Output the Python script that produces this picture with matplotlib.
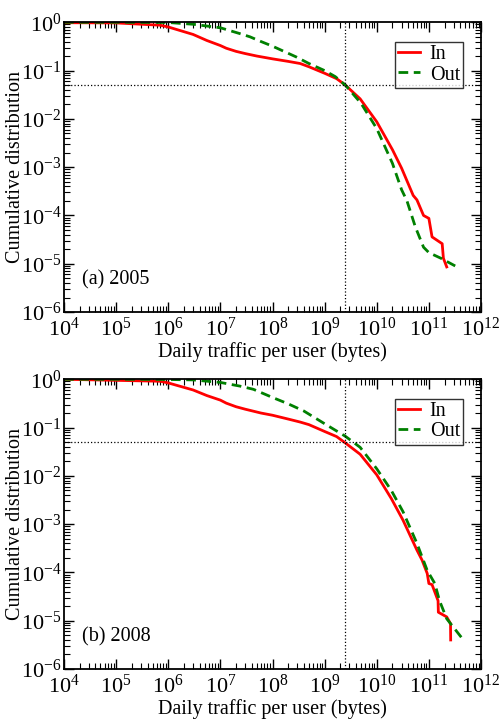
import numpy as np
import matplotlib.pyplot as plt
from matplotlib.ticker import LogLocator, NullFormatter

plt.rcParams['font.family'] = 'Liberation Serif'
plt.rcParams['mathtext.fontset'] = 'stix'

# (a) 2005
x_in_05 = [1e4, 1e5, 7e5, 1e6, 3e6, 5.5e6, 1e7, 1.3e7, 2e7, 3e7, 5e7, 1e8, 2e8, 3.4e8,
           5e8, 1e9, 1.7e9, 2.5e9, 4.8e9, 1e10, 2e10, 3e10, 5e10, 5.9e10, 7.9e10, 1e11,
           1.15e11, 1.8e11, 1.9e11, 2.2e11]
y_in_05 = [0.98, 0.97, 0.87, 0.80, 0.56, 0.42, 0.33, 0.29, 0.25, 0.225, 0.20, 0.175, 0.155,
           0.14, 0.12, 0.088, 0.068, 0.05, 0.026, 0.0087, 0.0023, 9.5e-4, 2.6e-4, 2.1e-4,
           1e-4, 8.7e-5, 3.6e-5, 2.6e-5, 1.3e-5, 8.6e-6]
x_out_05 = [1e4, 1e5, 1e6, 3e6, 1e7, 2.4e7, 3.7e7, 6e7, 1e8, 1.8e8, 2.9e8, 5e8, 1e9, 1.6e9,
            2.5e9, 5e9, 1e10, 2e10, 3e10, 3.8e10, 5.5e10, 7.9e10, 1e11, 1.7e11, 3.2e11]
y_out_05 = [1.0, 1.0, 0.99, 0.91, 0.77, 0.58, 0.50, 0.40, 0.32, 0.24, 0.19, 0.14, 0.10,
            0.075, 0.05, 0.021, 0.0063, 0.0012, 3.4e-4, 2e-4, 5.8e-5, 2.2e-5, 1.7e-5,
            1.3e-5, 9e-6]

# (b) 2008
x_in_08 = [1e4, 1e5, 7e5, 1e6, 3e6, 5.5e6, 1e7, 1.3e7, 2e7, 3e7, 6e7, 1e8, 2e8, 3.4e8,
           5e8, 1e9, 1.7e9, 2.5e9, 4.8e9, 1e10, 1.9e10, 3.2e10, 5.9e10, 7.4e10, 9.3e10,
           1e11, 1.15e11, 1.5e11, 1.52e11, 2.2e11, 2.6e11, 2.62e11]
y_in_08 = [1.0, 0.95, 0.91, 0.84, 0.60, 0.46, 0.37, 0.32, 0.27, 0.24, 0.20, 0.18, 0.15,
           0.13, 0.115, 0.083, 0.065, 0.048, 0.028, 0.0105, 0.0034, 0.0012, 2.9e-4,
           1.8e-4, 9.5e-5, 5.9e-5, 5.6e-5, 2.6e-5, 1.5e-5, 1.2e-5, 8.7e-6, 4e-6]
x_out_08 = [1e4, 1e5, 1e6, 3e6, 1e7, 2.4e7, 4.3e7, 1e8, 2e8, 4e8, 1e9, 2.5e9, 4.8e9, 1e10,
            1.9e10, 3.2e10, 5.9e10, 9.3e10, 1.3e11, 1.6e11, 2.2e11, 4.6e11]
y_out_08 = [1.0, 1.0, 0.99, 0.97, 0.86, 0.72, 0.62, 0.42, 0.31, 0.22, 0.12, 0.066, 0.039,
            0.014, 0.005, 0.0018, 4e-4, 1.1e-4, 5.9e-5, 2.6e-5, 1.1e-5, 4e-6]

panels = [
    ('(a) 2005', x_in_05, y_in_05, x_out_05, y_out_05),
    ('(b) 2008', x_in_08, y_in_08, x_out_08, y_out_08),
]

fig = plt.figure(figsize=(5, 7.19), dpi=100)
axes = [fig.add_axes([0.128, 0.566, 0.834, 0.403]),
        fig.add_axes([0.128, 0.0695, 0.834, 0.403])]

for ax, (label, xi, yi, xo, yo) in zip(axes, panels):
    ax.plot(xi, yi, color='red', lw=2, label='In')
    ax.plot(xo, yo, color='green', lw=2, ls=(0, (3.5, 2)), label='Out')
    ax.axvline(2.5e9, color='black', lw=0.9, ls=':')
    ax.axhline(0.05, color='black', lw=0.9, ls=':')
    ax.set_xscale('log')
    ax.set_yscale('log')
    ax.set_xlim(1e4, 1e12)
    ax.set_ylim(1e-6, 1)
    ax.xaxis.set_major_locator(LogLocator(base=10, numticks=20))
    ax.xaxis.set_minor_locator(LogLocator(base=10, subs=np.arange(2, 10), numticks=20))
    ax.yaxis.set_major_locator(LogLocator(base=10, numticks=20))
    ax.yaxis.set_minor_locator(LogLocator(base=10, subs=np.arange(2, 10), numticks=20))
    ax.xaxis.set_minor_formatter(NullFormatter())
    ax.yaxis.set_minor_formatter(NullFormatter())
    ax.tick_params(which='both', direction='in', top=True, right=True, labelsize=16)
    ax.tick_params(axis='x', pad=4)
    ax.tick_params(axis='y', pad=2)
    ax.tick_params(which='major', length=7, width=1)
    ax.tick_params(which='minor', length=4, width=0.8)
    for s in ax.spines.values():
        s.set_linewidth(1.3)
    ax.set_xlabel('Daily traffic per user (bytes)', fontsize=14.5)
    ax.xaxis.set_label_coords(0.5, -0.105)
    ax.set_ylabel('Cumulative distribution', fontsize=14.5)
    ax.yaxis.set_label_coords(-0.094, 0.5)
    ax.text(0.043, 0.11, label, transform=ax.transAxes, fontsize=14.5, va='center')
    leg = ax.legend(loc='upper right', bbox_to_anchor=(0.957, 0.931), fontsize=14.5,
                    frameon=True, fancybox=False, edgecolor='black', handlelength=1.1,
                    borderpad=0.15, labelspacing=0.05, handletextpad=0.5, borderaxespad=0)
    leg.get_frame().set_linewidth(1)

fig.savefig('out.png', dpi=100)
